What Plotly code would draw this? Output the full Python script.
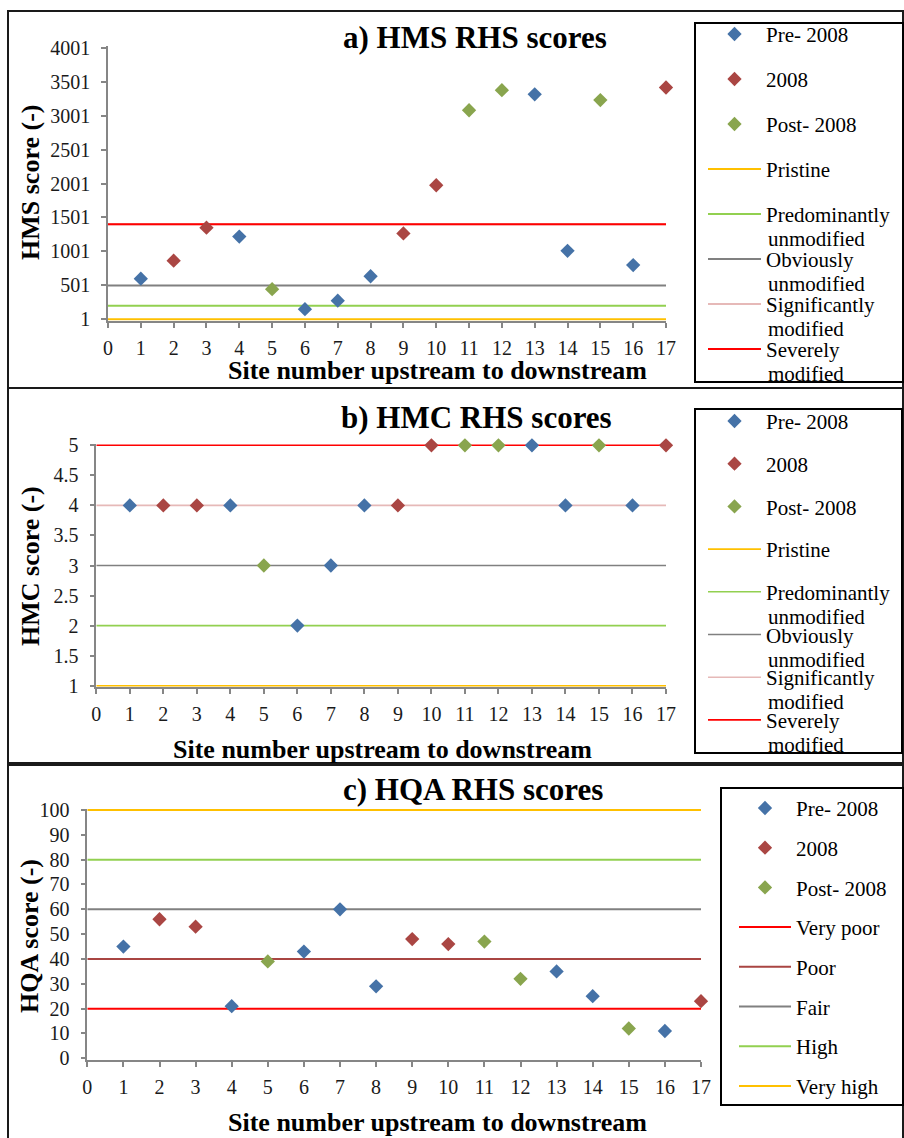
import plotly.graph_objects as go

W, H = 904, 1138
FONT = "Liberation Serif, Times New Roman, serif"

# ---- data -----------------------------------------------------------------
sites = list(range(1, 18))
period = ["Pre", "2008", "2008", "Pre", "Post", "Pre", "Pre", "Pre", "2008", "2008",
          "Post", "Post", "Pre", "Pre", "Post", "Pre", "2008"]
hms = [600, 865, 1350, 1220, 445, 150, 275, 635, 1265, 1975,
       3080, 3375, 3315, 1010, 3230, 800, 3415]
hmc = [4, 4, 4, 4, 3, 2, 3, 4, 4, 5, 5, 5, 5, 4, 5, 4, 5]
hqa = [45, 56, 53, 21, 39, 43, 60, 29, 48, 46, 47, 32, 35, 25, 12, 11, 23]

series_keys = ["Pre", "2008", "Post"]
series_names = ["Pre- 2008", "2008", "Post- 2008"]
series_colors = ["#4572A7", "#AA4643", "#89A54E"]

# modification classes: legend label split over two lines
mod_classes = [("Pristine", ""), ("Predominantly", "unmodified"),
               ("Obviously", "unmodified"), ("Significantly", "modified"),
               ("Severely", "modified")]
mod_colors = ["#FFC000", "#92D050", "#808080", "#E6B9B8", "#FF0000"]
hms_thresholds = [1, 200, 500, 1400, 1400]
hmc_thresholds = [1, 2, 3, 4, 5]

quality_classes = [("Very poor", ""), ("Poor", ""), ("Fair", ""), ("High", ""),
                   ("Very high", "")]
quality_colors = ["#FF0000", "#A94542", "#808080", "#92D050", "#FFC000"]
hqa_thresholds = [20, 40, 60, 80, 100]

site_range = [0, 17]


def px(x):
    return x / W


def py(y):
    return 1 - y / H


LEG_SIZE = 21
ITEM_H = LEG_SIZE * 1.3 + 3          # plotly legend item height
FIRST_OFF = 5 + ITEM_H / 2           # first item centre below legend top
EDGE_PAD = 1.5                        # keeps edge threshold lines unclipped

panels = [
    dict(title="a) HMS RHS scores", ytitle="HMS score (-)", values=hms,
         yrange=[1, 4001], tick0=1, dtick=500,
         classes=mod_classes, colors=mod_colors, thresholds=hms_thresholds, lw=2,
         plot=(108, 666, 47.7, 319.3), frame=(8, 903, 11, 388),
         title_xy=(475, 37), ytitle_xy=(30, 183), xtitle_xy=(437, 370),
         legend_box=(695, 903, 23, 382), legend_x=703, row0=34, step=45,
         itemwidth=53),
    dict(title="b) HMC RHS scores", ytitle="HMC score (-)", values=hmc,
         yrange=[1, 5], tick0=1, dtick=0.5,
         classes=mod_classes, colors=mod_colors, thresholds=hmc_thresholds, lw=1.6,
         plot=(96.3, 666, 445.3, 685.7), frame=(8, 903, 388, 763),
         title_xy=(477, 417), ytitle_xy=(30, 566), xtitle_xy=(382, 749),
         legend_box=(695, 902, 409, 753), legend_x=703, row0=421, step=42.7,
         itemwidth=53),
    dict(title="c) HQA RHS scores", ytitle="HQA score (-)", values=hqa,
         yrange=[0, 100], tick0=0, dtick=10,
         classes=quality_classes, colors=quality_colors, thresholds=hqa_thresholds, lw=2,
         plot=(87.3, 701, 810, 1058.3), frame=(8, 903, 765, 1140),
         title_xy=(473, 789), ytitle_xy=(30, 936), xtitle_xy=(437, 1122),
         legend_box=(721, 903, 788, 1105), legend_x=734, row0=808, step=39.7,
         itemwidth=52),
]

fig = go.Figure()
shapes, annotations = [], []
layout = dict(width=W, height=H,
              margin=dict(l=0, r=0, t=0, b=0, autoexpand=False),
              paper_bgcolor="white", plot_bgcolor="white",
              font=dict(family=FONT, color="black"))

for i, p in enumerate(panels):
    n = "" if i == 0 else str(i + 1)
    xa, ya = "x" + n, "y" + n
    leg = "legend" + n
    x0, x1, y0, y1 = p["plot"]

    # threshold class lines first so markers sit on top
    for j, ((first, second), col, thr) in enumerate(
            zip(p["classes"], p["colors"], p["thresholds"])):
        fig.add_trace(go.Scatter(
            x=site_range, y=[thr, thr], mode="lines", name=first,
            line=dict(color=col, width=p["lw"]), xaxis=xa, yaxis=ya,
            cliponaxis=False,
            legend=leg, legendgroup=f"{leg}_line{j}", legendrank=100 + j,
            hoverinfo="skip"))

    for k, (key, name, col) in enumerate(zip(series_keys, series_names, series_colors)):
        xs = [s for s, per in zip(sites, period) if per == key]
        ys = [v for v, per in zip(p["values"], period) if per == key]
        fig.add_trace(go.Scatter(
            x=xs, y=ys, mode="markers", name=name,
            marker=dict(symbol="diamond", size=11, color=col, line=dict(width=0)),
            xaxis=xa, yaxis=ya, cliponaxis=False,
            legend=leg, legendgroup=f"{leg}_pt{k}", legendrank=10 + k))

    axis_common = dict(showline=True, linecolor="#868686", linewidth=1.5,
                       ticks="outside", ticklen=5, tickcolor="#868686", tickwidth=1.5,
                       showgrid=False, zeroline=False, layer="below traces",
                       tickfont=dict(family=FONT, size=20, color="#1a1a1a"))

    # small padding on the value axis so lines on the range edges stay whole
    lo, hi = p["yrange"]
    per_px = (hi - lo) / (y1 - y0)
    yr = [lo - EDGE_PAD * per_px, hi + EDGE_PAD * per_px]

    layout["xaxis" + n] = dict(axis_common, domain=[px(x0), px(x1)], range=site_range,
                               tickmode="linear", tick0=0, dtick=1, anchor=ya,
                               ticklabelstandoff=3)
    layout["yaxis" + n] = dict(axis_common,
                               domain=[py(y1 + EDGE_PAD), py(y0 - EDGE_PAD)],
                               range=yr, tickmode="linear", tick0=p["tick0"],
                               dtick=p["dtick"], anchor=xa, ticklabelstandoff=7)

    lx = p["legend_x"]
    layout[leg] = dict(x=px(lx), y=py(p["row0"] - FIRST_OFF),
                       xanchor="left", yanchor="top",
                       bgcolor="rgba(0,0,0,0)", borderwidth=0,
                       itemwidth=p["itemwidth"], tracegroupgap=p["step"] - ITEM_H,
                       font=dict(family=FONT, size=LEG_SIZE, color="black"))

    # second lines of the wrapped legend labels
    text_x = lx + p["itemwidth"] + 10
    n_series = len(series_names)
    for j, (first, second) in enumerate(p["classes"]):
        if second:
            yy = p["row0"] + (n_series + j) * p["step"] + 25
            annotations.append(dict(x=px(text_x), y=py(yy), xref="paper", yref="paper",
                                    text=second, showarrow=False, xanchor="left",
                                    yanchor="middle",
                                    font=dict(family=FONT, size=LEG_SIZE, color="black")))

    # panel frame and legend frame
    fx0, fx1, fy0, fy1 = p["frame"]
    shapes.append(dict(type="rect", xref="paper", yref="paper",
                       x0=px(fx0), x1=px(fx1), y0=py(fy1), y1=py(fy0),
                       line=dict(color="#1a1a1a", width=2)))
    bx0, bx1, by0, by1 = p["legend_box"]
    shapes.append(dict(type="rect", xref="paper", yref="paper",
                       x0=px(bx0), x1=px(bx1), y0=py(by1), y1=py(by0),
                       line=dict(color="black", width=2)))

    tx, ty = p["title_xy"]
    annotations.append(dict(x=px(tx), y=py(ty), xref="paper", yref="paper",
                            text="<b>" + p["title"] + "</b>", showarrow=False,
                            xanchor="center", yanchor="middle",
                            font=dict(family=FONT, size=31, color="black")))
    yx, yy = p["ytitle_xy"]
    annotations.append(dict(x=px(yx), y=py(yy), xref="paper", yref="paper",
                            text="<b>" + p["ytitle"] + "</b>", showarrow=False,
                            textangle=-90, xanchor="center", yanchor="middle",
                            font=dict(family=FONT, size=26, color="black")))
    xx, xy = p["xtitle_xy"]
    annotations.append(dict(x=px(xx), y=py(xy), xref="paper", yref="paper",
                            text="<b>Site number upstream to downstream</b>",
                            showarrow=False, xanchor="center", yanchor="middle",
                            font=dict(family=FONT, size=26, color="black")))

layout["shapes"] = shapes
layout["annotations"] = annotations
layout["showlegend"] = True
fig.update_layout(**layout)

fig.write_html("out.html")
